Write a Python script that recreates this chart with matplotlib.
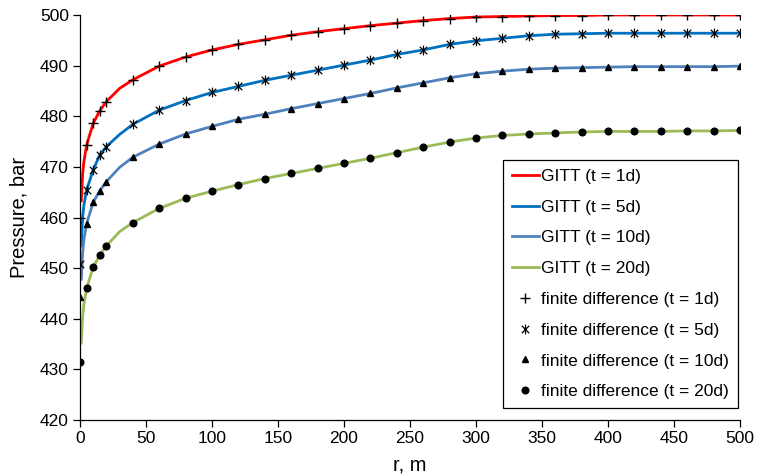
import numpy as np
import matplotlib
matplotlib.use("Agg")
import matplotlib.pyplot as plt
from matplotlib.path import Path

plt.rcParams['font.family'] = ['Liberation Sans', 'DejaVu Sans']

# finite difference points (r in m, pressure in bar)
r_fd = [0, 5, 10, 15, 20, 40, 60, 80, 100, 120, 140, 160, 180, 200, 220, 240,
        260, 280, 300, 320, 340, 360, 380, 400, 420, 440, 460, 480, 500]
fd_1d = [460.0, 474.3, 478.6, 481.1, 482.9, 487.2, 489.9, 491.7, 493.1, 494.2, 495.1,
         496.0, 496.7, 497.3, 497.9, 498.4, 498.9, 499.3, 499.6, 499.7, 499.8, 499.9,
         499.9, 500.0, 500.0, 500.0, 500.0, 500.0, 500.0]
fd_5d = [450.9, 465.4, 469.4, 472.4, 474.0, 478.4, 481.2, 483.1, 484.7, 485.9, 487.1,
         488.1, 489.1, 490.1, 491.1, 492.2, 493.1, 494.2, 494.9, 495.4, 495.9, 496.2,
         496.3, 496.4, 496.4, 496.4, 496.4, 496.4, 496.4]
fd_10d = [444.3, 458.8, 463.0, 465.3, 467.1, 471.9, 474.5, 476.5, 478.0, 479.4, 480.4,
          481.5, 482.5, 483.5, 484.5, 485.6, 486.6, 487.6, 488.4, 488.9, 489.3, 489.5,
          489.6, 489.7, 489.8, 489.8, 489.8, 489.8, 489.9]
fd_20d = [431.5, 446.0, 450.2, 452.6, 454.4, 459.0, 461.8, 463.8, 465.2, 466.5, 467.7,
          468.7, 469.7, 470.7, 471.7, 472.8, 473.9, 474.9, 475.7, 476.2, 476.5, 476.7,
          476.9, 477.0, 477.0, 477.0, 477.1, 477.1, 477.2]

# GITT curves
r_gitt = [1, 2, 3, 5, 10, 15, 20, 30, 40] + r_fd[6:]
gitt_1d = [463.3, 468.6, 471.1, 474.3, 478.6, 481.1, 482.9, 485.5, 487.2] + fd_1d[6:]
gitt_5d = [454.4, 460.1, 462.5, 465.4, 469.4, 472.4, 474.0, 476.4, 478.4] + fd_5d[6:]
gitt_10d = [447.8, 453.2, 455.7, 458.8, 463.0, 465.3, 467.1, 469.9, 471.9] + fd_10d[6:]
gitt_20d = [435.2, 440.4, 442.9, 446.0, 450.2, 452.6, 454.4, 457.2, 459.0] + fd_20d[6:]

# star marker like Excel (x with vertical bar)
star = Path([(-1, -1), (1, 1), (-1, 1), (1, -1), (0, -1.3), (0, 1.3)],
            [Path.MOVETO, Path.LINETO, Path.MOVETO, Path.LINETO, Path.MOVETO, Path.LINETO])

fig = plt.figure(figsize=(7.61, 4.75), dpi=100)
ax = fig.add_axes([80/761, 1-420/475, 660/761, 405/475])

lw = 2.0
ax.plot(r_gitt, gitt_1d, color='#FF0000', lw=lw, label='GITT (t = 1d)')
ax.plot(r_gitt, gitt_5d, color='#0070C0', lw=lw, label='GITT (t = 5d)')
ax.plot(r_gitt, gitt_10d, color='#4F81BD', lw=lw, label='GITT (t = 10d)')
ax.plot(r_gitt, gitt_20d, color='#9BBB59', lw=lw, label='GITT (t = 20d)')

ax.plot(r_fd, fd_1d, ls='none', marker='+', ms=7, mew=1.0, color='black',
        label='finite difference (t = 1d)')
ax.plot(r_fd, fd_5d, ls='none', marker=star, ms=7, mew=0.9, color='black',
        label='finite difference (t = 5d)')
ax.plot(r_fd, fd_10d, ls='none', marker='^', ms=5, color='black',
        label='finite difference (t = 10d)')
ax.plot(r_fd, fd_20d, ls='none', marker='o', ms=4.8, color='black',
        label='finite difference (t = 20d)')

ax.set_xlim(0, 500)
ax.set_ylim(420, 500)
ax.set_xticks(np.arange(0, 501, 50))
ax.set_yticks(np.arange(420, 501, 10))
ax.spines['top'].set_visible(False)
ax.spines['right'].set_visible(False)
for s in ['left', 'bottom']:
    ax.spines[s].set_linewidth(0.9)
ax.tick_params(labelsize=12.5, length=5, width=0.9, direction='out', pad=3)
ax.set_xlabel('r, m', fontsize=14.5, labelpad=7)
ax.set_ylabel('Pressure, bar', fontsize=14.5, labelpad=8)

leg = ax.legend(loc='lower right', bbox_to_anchor=(738/761, 1-408/475),
                bbox_transform=fig.transFigure, fontsize=12.5, frameon=True,
                fancybox=False, edgecolor='black', framealpha=1,
                handlelength=1.55, handletextpad=0.15, labelspacing=0.9,
                borderpad=0.5, borderaxespad=0)
leg.get_frame().set_linewidth(0.9)

fig.savefig('out.png', dpi=100)
